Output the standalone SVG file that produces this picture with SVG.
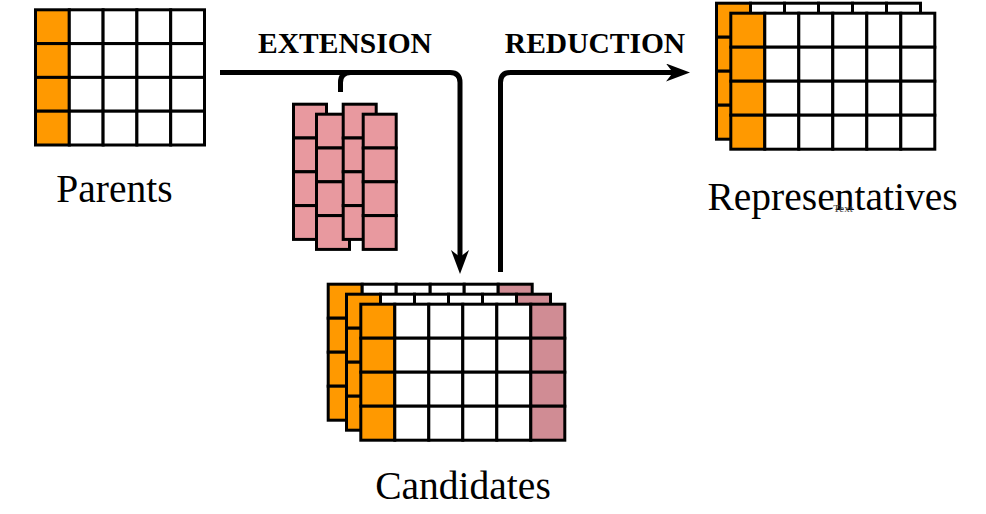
<svg xmlns="http://www.w3.org/2000/svg" xmlns:xlink="http://www.w3.org/1999/xlink" width="986" height="514" viewBox="0 0 986 514">
<style>
.c{stroke:#000;stroke-width:3;fill:#fff}
.o{fill:#FF9900}
.p{fill:#D08C94}
.k{fill:#E8999F}
.lbl{font-family:"Liberation Serif","Times New Roman",serif;font-size:39.5px;fill:#000;text-anchor:middle}
.op{font-family:"Liberation Serif","Times New Roman",serif;font-size:29.5px;font-weight:bold;fill:#000;text-anchor:middle}
.conn{fill:none;stroke:#000;stroke-width:5}
</style>
<defs>
<marker id="arr" markerUnits="userSpaceOnUse" viewBox="0 0 24 18" refX="7" refY="9" markerWidth="24" markerHeight="18" orient="auto">
<path d="M0,0 L24,9 L0,18 L7,9 Z" fill="#000"/>
</marker>
<g id="g5">
<rect class="c o" x="0" y="0" width="33.8" height="33.8"/><rect class="c" x="33.8" y="0" width="33.8" height="33.8"/><rect class="c" x="67.6" y="0" width="33.8" height="33.8"/><rect class="c" x="101.4" y="0" width="33.8" height="33.8"/><rect class="c" x="135.2" y="0" width="33.8" height="33.8"/>
<rect class="c o" x="0" y="33.8" width="33.8" height="33.8"/><rect class="c" x="33.8" y="33.8" width="33.8" height="33.8"/><rect class="c" x="67.6" y="33.8" width="33.8" height="33.8"/><rect class="c" x="101.4" y="33.8" width="33.8" height="33.8"/><rect class="c" x="135.2" y="33.8" width="33.8" height="33.8"/>
<rect class="c o" x="0" y="67.6" width="33.8" height="33.8"/><rect class="c" x="33.8" y="67.6" width="33.8" height="33.8"/><rect class="c" x="67.6" y="67.6" width="33.8" height="33.8"/><rect class="c" x="101.4" y="67.6" width="33.8" height="33.8"/><rect class="c" x="135.2" y="67.6" width="33.8" height="33.8"/>
<rect class="c o" x="0" y="101.4" width="33.8" height="33.8"/><rect class="c" x="33.8" y="101.4" width="33.8" height="33.8"/><rect class="c" x="67.6" y="101.4" width="33.8" height="33.8"/><rect class="c" x="101.4" y="101.4" width="33.8" height="33.8"/><rect class="c" x="135.2" y="101.4" width="33.8" height="33.8"/>
</g>
<g id="g6">
<rect class="c o" x="0" y="0" width="34" height="34"/><rect class="c" x="34" y="0" width="34" height="34"/><rect class="c" x="68" y="0" width="34" height="34"/><rect class="c" x="102" y="0" width="34" height="34"/><rect class="c" x="136" y="0" width="34" height="34"/><rect class="c" x="170" y="0" width="34" height="34"/>
<rect class="c o" x="0" y="34" width="34" height="34"/><rect class="c" x="34" y="34" width="34" height="34"/><rect class="c" x="68" y="34" width="34" height="34"/><rect class="c" x="102" y="34" width="34" height="34"/><rect class="c" x="136" y="34" width="34" height="34"/><rect class="c" x="170" y="34" width="34" height="34"/>
<rect class="c o" x="0" y="68" width="34" height="34"/><rect class="c" x="34" y="68" width="34" height="34"/><rect class="c" x="68" y="68" width="34" height="34"/><rect class="c" x="102" y="68" width="34" height="34"/><rect class="c" x="136" y="68" width="34" height="34"/><rect class="c" x="170" y="68" width="34" height="34"/>
<rect class="c o" x="0" y="102" width="34" height="34"/><rect class="c" x="34" y="102" width="34" height="34"/><rect class="c" x="68" y="102" width="34" height="34"/><rect class="c" x="102" y="102" width="34" height="34"/><rect class="c" x="136" y="102" width="34" height="34"/><rect class="c" x="170" y="102" width="34" height="34"/>
</g>
<g id="g6p">
<rect class="c o" x="0" y="0" width="34" height="34"/><rect class="c" x="34" y="0" width="34" height="34"/><rect class="c" x="68" y="0" width="34" height="34"/><rect class="c" x="102" y="0" width="34" height="34"/><rect class="c" x="136" y="0" width="34" height="34"/><rect class="c p" x="170" y="0" width="34" height="34"/>
<rect class="c o" x="0" y="34" width="34" height="34"/><rect class="c" x="34" y="34" width="34" height="34"/><rect class="c" x="68" y="34" width="34" height="34"/><rect class="c" x="102" y="34" width="34" height="34"/><rect class="c" x="136" y="34" width="34" height="34"/><rect class="c p" x="170" y="34" width="34" height="34"/>
<rect class="c o" x="0" y="68" width="34" height="34"/><rect class="c" x="34" y="68" width="34" height="34"/><rect class="c" x="68" y="68" width="34" height="34"/><rect class="c" x="102" y="68" width="34" height="34"/><rect class="c" x="136" y="68" width="34" height="34"/><rect class="c p" x="170" y="68" width="34" height="34"/>
<rect class="c o" x="0" y="102" width="34" height="34"/><rect class="c" x="34" y="102" width="34" height="34"/><rect class="c" x="68" y="102" width="34" height="34"/><rect class="c" x="102" y="102" width="34" height="34"/><rect class="c" x="136" y="102" width="34" height="34"/><rect class="c p" x="170" y="102" width="34" height="34"/>
</g>
<g id="pcol">
<rect class="c k" x="0" y="0" width="33" height="33.8"/><rect class="c k" x="0" y="33.8" width="33" height="33.8"/><rect class="c k" x="0" y="67.6" width="33" height="33.8"/><rect class="c k" x="0" y="101.4" width="33" height="33.8"/>
</g>
</defs>
<rect width="986" height="514" fill="#fff"/>

<g id="parents">
<use xlink:href="#g5" href="#g5" transform="translate(35.5 9.8)"/>
<text class="lbl" x="114.5" y="201.5">Parents</text>
</g>

<g id="extension-blocks">
<use xlink:href="#pcol" href="#pcol" transform="translate(293.5 104.2)"/>
<use xlink:href="#pcol" href="#pcol" transform="translate(316.5 114.2)"/>
<use xlink:href="#pcol" href="#pcol" transform="translate(343.2 104.2)"/>
<use xlink:href="#pcol" href="#pcol" transform="translate(363.2 114.2)"/>
</g>

<g id="candidates">
<use xlink:href="#g6p" href="#g6p" transform="translate(328.2 284.2)"/>
<use xlink:href="#g6p" href="#g6p" transform="translate(346.5 294.2)"/>
<use xlink:href="#g6p" href="#g6p" transform="translate(360.8 304.2)"/>
<text class="lbl" x="463" y="499">Candidates</text>
</g>

<g id="representatives">
<use xlink:href="#g6" href="#g6" transform="translate(716.5 3.2)"/>
<use xlink:href="#g6" href="#g6" transform="translate(730.8 13.2)"/>
<text class="lbl" x="832.5" y="210">Representatives</text>
<text x="843" y="211.5" font-family="Liberation Serif, Times New Roman, serif" font-size="11" fill="#444" text-anchor="middle">Text</text>
</g>

<g id="connectors">
<path class="conn" d="M220,72.5 H450 Q460,72.5 460,82.5 V257" marker-end="url(#arr)"/>
<path class="conn" d="M340.5,92 V82.5 Q340.5,72.5 350.5,72.5"/>
<path class="conn" d="M500.5,272 V82.5 Q500.5,72.5 510.5,72.5 H673" marker-end="url(#arr)"/>
<text class="op" x="345" y="53.3">EXTENSION</text>
<text class="op" x="595" y="53.3">REDUCTION</text>
</g>
</svg>
